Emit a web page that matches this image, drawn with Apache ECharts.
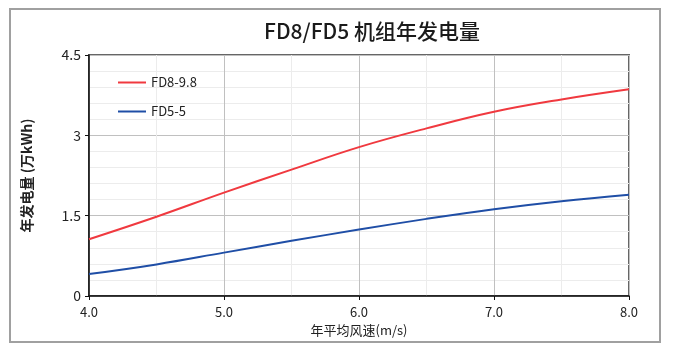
<!DOCTYPE html>
<html><head><meta charset="utf-8">
<script src="https://cdn.jsdelivr.net/npm/echarts@6/dist/echarts.min.js"></script>
<style>html,body{margin:0;padding:0;background:#fff}#c{width:681px;height:348px}</style>
</head><body><div id="c"></div>
<script>
const windSpeeds = [4.0, 4.5, 5.0, 5.5, 6.0, 6.5, 7.0, 7.5, 8.0];
const fd8Values = [1.06, 1.48, 1.93, 2.36, 2.78, 3.13, 3.44, 3.67, 3.86];
const fd5Values = [0.41, 0.59, 0.81, 1.03, 1.24, 1.44, 1.62, 1.77, 1.89];
const seriesNames = ['FD8-9.8', 'FD5-5'];
const titleText = 'FD8/FD5 机组年发电量';
const xName = '年平均风速(m/s)';
const yName = '年发电量 (万kWh)';

const FONT = '"Noto Sans CJK SC", "Noto Sans", sans-serif';
const chart = echarts.init(document.getElementById('c'), null, {renderer: 'canvas'});
const pair = (xs, ys) => xs.map((x, i) => [x, ys[i]]);
chart.setOption({
  animation: false,
  backgroundColor: '#fff',
  textStyle: {fontFamily: FONT},
  title: {
    text: titleText, left: 367, top: 16, textAlign: 'center',
    textStyle: {fontFamily: FONT, fontSize: 21, fontWeight: 500, color: '#1a1a1a'}
  },
  graphic: [{
    type: 'rect', shape: {x: 10, y: 9, width: 650, height: 333},
    style: {fill: 'none', stroke: '#a0a0a0', lineWidth: 2}, z: -1
  }],
  legend: {
    orient: 'vertical', left: 113, top: 71, itemGap: 16,
    itemWidth: 28, itemHeight: 2, icon: 'rect',
    textStyle: {fontFamily: FONT, fontSize: 13, color: '#222'},
    data: seriesNames
  },
  grid: {left: 89, right: 52, top: 55, bottom: 52, show: true,
    borderColor: '#666', borderWidth: 2, backgroundColor: 'transparent'},
  xAxis: {
    type: 'value', min: 4, max: 8, interval: 1,
    name: xName, nameLocation: 'middle', nameGap: 25,
    nameTextStyle: {fontFamily: FONT, fontSize: 13, color: '#222'},
    axisLine: {lineStyle: {color: '#111', width: 1.5}},
    axisTick: {show: true, length: 4, lineStyle: {color: '#111'}},
    axisLabel: {formatter: v => v.toFixed(1), fontSize: 13, color: '#222', margin: 10, fontFamily: FONT},
    splitLine: {show: true, lineStyle: {color: '#c0c0c0', width: 1}},
    minorTick: {show: false, splitNumber: 2},
    minorSplitLine: {show: true, lineStyle: {color: '#ececec', width: 1}}
  },
  yAxis: {
    type: 'value', min: 0, max: 4.5, interval: 1.5,
    name: yName, nameLocation: 'middle', nameGap: 55, nameRotate: 90,
    nameTextStyle: {fontFamily: FONT, fontSize: 14, fontWeight: 'bold', color: '#222'},
    axisLine: {show: true, lineStyle: {color: '#111', width: 1.5}},
    axisTick: {show: true, length: 4, lineStyle: {color: '#111'}},
    axisLabel: {fontSize: 14, color: '#222', margin: 8, fontFamily: FONT},
    splitLine: {show: true, lineStyle: {color: '#c0c0c0', width: 1}},
    minorTick: {show: false, splitNumber: 5},
    minorSplitLine: {show: true, lineStyle: {color: '#ececec', width: 1}}
  },
  series: [
    {name: seriesNames[0], type: 'line', smooth: 0.4, showSymbol: false,
     data: pair(windSpeeds, fd8Values), color: '#f0393f',
     lineStyle: {color: '#f0393f', width: 2}},
    {name: seriesNames[1], type: 'line', smooth: 0.4, showSymbol: false,
     data: pair(windSpeeds, fd5Values), color: '#1f4ea6',
     lineStyle: {color: '#1f4ea6', width: 2}}
  ]
});
</script></body></html>
